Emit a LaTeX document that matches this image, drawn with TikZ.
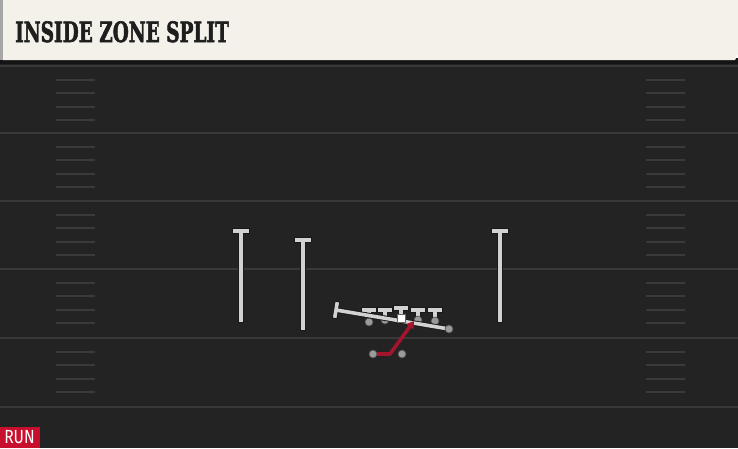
\documentclass[tikz,border=0pt]{standalone}
\usepackage{fontspec}
\setmainfont{DejaVu Serif}
\newfontfamily\titlefont{DejaVu Serif}[FakeBold=2.2, UprightFont={* Bold}]
\newfontfamily\runfont{Fira Sans}
\usetikzlibrary{arrows.meta}
\definecolor{field}{HTML}{232323}
\definecolor{yard}{HTML}{393939}
\definecolor{hashc}{HTML}{3A3A3A}
\definecolor{titlebg}{HTML}{F4F1EA}
\definecolor{titletx}{HTML}{1E1E1E}
\definecolor{pline}{HTML}{D2D2D2}
\definecolor{pdot}{HTML}{9A9A9A}
\definecolor{runred}{HTML}{A3142E}
\definecolor{tagred}{HTML}{C8102E}
\tikzset{
  route/.style={draw=pline, line width=3.6pt, line cap=rect,
    preaction={draw=black!90, line width=5.4pt, line cap=rect}},
  pdotst/.style={circle, fill=pdot, draw=black!70, line width=0.6pt, minimum size=8pt, inner sep=0pt},
  yardst/.style={draw=yard, line width=2pt},
  hashst/.style={draw=hashc, line width=2pt},
  runpath/.style={draw=runred, line width=3.6pt, line join=round,
    -{Triangle[length=7pt,width=8.5pt]}},
}
\begin{document}
\begin{tikzpicture}[x=1pt,y=-1pt]
\useasboundingbox (0,0) rectangle (738,448);
% field
\fill[field] (0,58) rectangle (738,448);
\fill[black!92] (0,58) rectangle (738,64);
% yard lines
\foreach \yy in {66,133,201,269,338,407} {
  \draw[yardst] (0,\yy) -- (738,\yy);
}
% hash marks
\foreach \yy in {66,133,201,269,338} {
  \foreach \k in {1,2,3,4} {
    \draw[hashst] (56,\yy+13.6*\k) -- (95,\yy+13.6*\k);
    \draw[hashst] (646,\yy+13.6*\k) -- (685,\yy+13.6*\k);
  }
}
% title bar
\fill[black!35] (0,0) rectangle (4,60);
\fill[titlebg] (3,0) -- (738,0) -- (738,54) -- (735,60) -- (3,60) -- cycle;
\node[anchor=base west, inner sep=0pt, text=titletx] (title) at (15,42)
  {\titlefont\fontsize{28}{28}\selectfont\scalebox{0.66}[1]{INSIDE ZONE SPLIT}};
% receivers
\coordinate (wr1) at (241,320); \coordinate (wr1t) at (241,231);
\coordinate (wr2) at (303,328); \coordinate (wr2t) at (303,240);
\coordinate (wr3) at (500,320); \coordinate (wr3t) at (500,231);
\foreach \p in {wr1,wr2,wr3} {
  \draw[route] (\p) -- (\p t) ++(-6,0) -- ++(12,0);
}
% linemen
\coordinate (lt) at (369,322); \coordinate (lg) at (385,320);
\coordinate (c) at (401,318); \coordinate (rg) at (418,320); \coordinate (rt) at (435,321);
\foreach \p/\top in {lt/310,lg/310,c/308,rg/310,rt/310} {
  \draw[route] (\p) -- (\p |- 0,\top) ++(-5.5,0) -- ++(11,0);
}
\foreach \p in {lt,lg,rg,rt} { \node[pdotst] (\p dot) at (\p) {}; }
% split-flow block (TE across)
\coordinate (te) at (449,329);
\coordinate (blk) at (336,310);
\draw[route] (te) -- (blk) ++(1,-6) -- ++(-2,12);
\node[pdotst] (tedot) at (te) {};
% center
\node[fill=white, draw=black!60, line width=0.5pt, minimum size=8.5pt, inner sep=0pt] (cbox) at (c) {};
% backfield
\coordinate (rb) at (373,354);
\coordinate (qb) at (402,354);
\coordinate (bend) at (390,354);
\coordinate (hole) at (414,321);
\draw[runpath] (rb) -- (bend) -- (hole);
\node[pdotst] (rbdot) at (rb) {};
\node[pdotst] (qbdot) at (qb) {};
% RUN tag
\fill[tagred] (0,427) rectangle (40,448);
\node[text=white, inner sep=0pt, anchor=base] (tag) at (19.5,443)
  {\runfont\fontsize{19}{19}\selectfont\scalebox{0.82}[1]{RUN}};
\end{tikzpicture}
\end{document}
